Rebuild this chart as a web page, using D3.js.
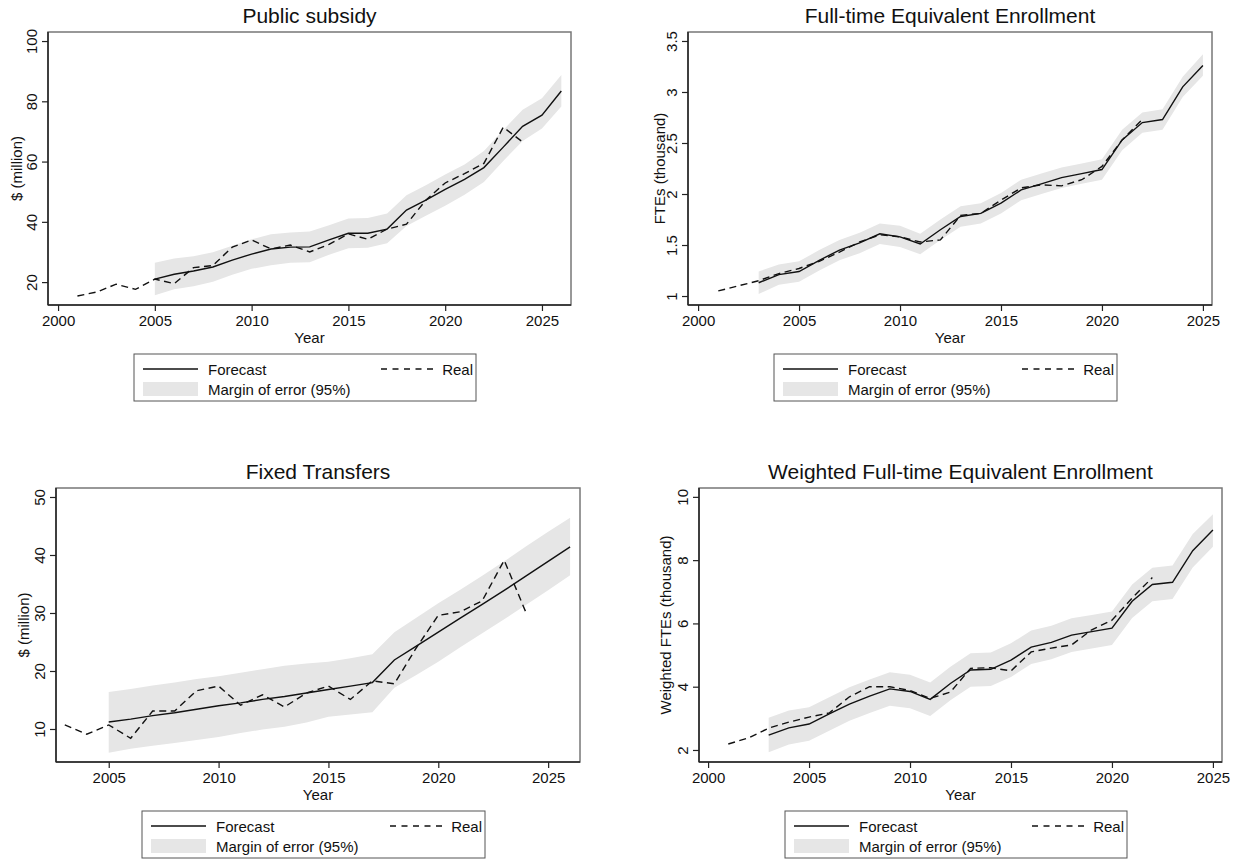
<!DOCTYPE html>
<html>
<head>
<meta charset="utf-8">
<script src="https://cdn.jsdelivr.net/npm/d3@7"></script>
<style>
  html, body { margin: 0; padding: 0; background: #fff; }
  svg { display: block; }
  text { font-family: "Liberation Sans", Arial, Helvetica, sans-serif; fill: #111; }
</style>
</head>
<body>
<svg id="chart" width="1234" height="861"></svg>
<script>
// ---------------- DATA ----------------
// Panel 1: Public subsidy ($ million)
const subsidyRealYears = [2001,2002,2003,2004,2005,2006,2007,2008,2009,2010,2011,2012,2013,2014,2015,2016,2017,2018,2019,2020,2021,2022,2023,2024];
const subsidyReal      = [15.4,16.7,19.3,17.6,21.0,19.5,24.8,25.5,31.6,34.0,31.0,32.3,30.0,32.5,36.0,34.2,37.6,39.2,47.2,52.9,56.0,59.4,71.4,66.5];
const subsidyFcYears   = [2005,2006,2007,2008,2009,2010,2011,2012,2013,2014,2015,2016,2017,2018,2019,2020,2021,2022,2023,2024,2025,2026];
const subsidyFc        = [21.0,22.6,23.7,25.0,27.3,29.3,31.0,31.6,31.7,34.0,36.2,36.2,37.6,43.9,47.2,50.8,54.1,58.0,64.8,71.7,75.4,83.4];
const subsidyHi        = [26.4,27.8,28.6,29.9,32.1,34.2,35.9,36.5,36.8,38.9,41.1,41.3,42.8,48.8,52.1,55.7,59.0,63.5,70.5,77.2,81.0,88.7];
const subsidyLo        = [15.6,17.6,18.6,20.1,22.4,24.4,25.6,26.4,26.6,29.1,31.2,31.4,32.9,38.6,42.0,45.3,49.0,53.2,60.2,66.8,71.0,78.3];

// Panel 2: Full-time Equivalent Enrollment (thousand)
const fteRealYears = [2001,2002,2003,2004,2005,2006,2007,2008,2009,2010,2011,2012,2013,2014,2015,2016,2017,2018,2019,2020,2021,2022];
const fteReal      = [1.05,1.10,1.15,1.22,1.27,1.34,1.43,1.53,1.60,1.58,1.53,1.55,1.79,1.81,1.94,2.06,2.09,2.08,2.14,2.27,2.53,2.73];
const fteFcYears   = [2003,2004,2005,2006,2007,2008,2009,2010,2011,2012,2013,2014,2015,2016,2017,2018,2019,2020,2021,2022,2023,2024,2025];
const fteFc        = [1.13,1.21,1.24,1.35,1.45,1.52,1.61,1.58,1.51,1.65,1.78,1.81,1.91,2.04,2.10,2.16,2.20,2.24,2.53,2.70,2.73,3.05,3.26];
const fteHi        = [1.24,1.31,1.34,1.45,1.55,1.62,1.71,1.69,1.61,1.75,1.88,1.91,2.01,2.14,2.20,2.26,2.30,2.34,2.63,2.80,2.83,3.15,3.37];
const fteLo        = [1.02,1.11,1.14,1.25,1.35,1.42,1.51,1.48,1.41,1.55,1.68,1.71,1.81,1.94,2.00,2.06,2.10,2.14,2.43,2.60,2.63,2.95,3.16];

// Panel 3: Fixed Transfers ($ million)
const fixedRealYears = [2003,2004,2005,2006,2007,2008,2009,2010,2011,2012,2013,2014,2015,2016,2017,2018,2019,2020,2021,2022,2023,2024];
const fixedReal      = [10.7,9.1,10.7,8.4,13.1,13.1,16.6,17.4,14.1,15.9,13.8,16.2,17.4,15.1,18.3,17.8,24.0,29.6,30.2,32.1,39.1,30.0];
const fixedFcYears   = [2005,2006,2007,2008,2009,2010,2011,2012,2013,2014,2015,2016,2017,2018,2019,2020,2021,2022,2023,2024,2025,2026];
const fixedFc        = [11.2,11.7,12.3,12.8,13.4,14.0,14.5,15.1,15.6,16.2,16.8,17.4,18.0,21.9,24.3,26.7,29.1,31.5,33.9,36.4,38.9,41.4];
const fixedHi        = [16.4,16.9,17.5,18.0,18.6,19.1,19.7,20.3,20.9,21.3,21.6,22.2,22.9,26.7,29.2,31.7,34.0,36.4,38.9,41.5,44.0,46.4];
const fixedLo        = [5.9,6.6,7.1,7.6,8.1,8.6,9.3,9.9,10.4,11.1,12.1,12.5,12.9,17.1,19.3,21.6,24.1,26.5,28.9,31.4,33.9,36.5];

// Panel 4: Weighted Full-time Equivalent Enrollment (thousand)
const wfteRealYears = [2001,2002,2003,2004,2005,2006,2007,2008,2009,2010,2011,2012,2013,2014,2015,2016,2017,2018,2019,2020,2021,2022];
const wfteReal      = [2.19,2.38,2.69,2.88,3.04,3.17,3.68,4.00,4.00,3.88,3.63,3.83,4.58,4.60,4.50,5.10,5.22,5.32,5.80,6.10,6.80,7.45];
const wfteFcYears   = [2003,2004,2005,2006,2007,2008,2009,2010,2011,2012,2013,2014,2015,2016,2017,2018,2019,2020,2021,2022,2023,2024,2025];
const wfteFc        = [2.47,2.70,2.82,3.14,3.45,3.70,3.93,3.85,3.60,4.10,4.53,4.55,4.84,5.25,5.40,5.63,5.74,5.85,6.70,7.23,7.30,8.30,8.95];
const wfteHi        = [3.02,3.25,3.35,3.67,3.98,4.23,4.46,4.38,4.13,4.63,5.06,5.08,5.37,5.78,5.93,6.16,6.27,6.38,7.23,7.76,7.83,8.83,9.45];
const wfteLo        = [1.93,2.17,2.29,2.61,2.92,3.17,3.40,3.32,3.07,3.57,4.00,4.02,4.31,4.72,4.87,5.10,5.21,5.32,6.17,6.70,6.77,7.77,8.42];

// Tick values
const xTicksA = [2000,2005,2010,2015,2020,2025];
const xTicksB = [2005,2010,2015,2020,2025];
const yTicks1 = [20,40,60,80,100];
const yTicks2 = [1,1.5,2,2.5,3,3.5];
const yTicks3 = [10,20,30,40,50];
const yTicks4 = [2,4,6,8,10];

// Texts
const titles  = ["Public subsidy","Full-time Equivalent Enrollment","Fixed Transfers","Weighted Full-time Equivalent Enrollment"];
const yLabels = ["$ (million)","FTEs (thousand)","$ (million)","Weighted FTEs (thousand)"];
const xLabel  = "Year";
const legendLabels = ["Forecast","Real","Margin of error (95%)"];

// ---------------- LAYOUT ----------------
const panels = [
  { box:[48,32,571,305],  xd:[1999.48,2026.5],  yd:[12.4,103],   xt:xTicksA, yt:yTicks1, yLabOff:32,
    rY:subsidyRealYears, r:subsidyReal, fY:subsidyFcYears, f:subsidyFc, hi:subsidyHi, lo:subsidyLo },
  { box:[688,32,1212,305], xd:[1999.5,2025.45], yd:[0.912,3.588], xt:xTicksA, yt:yTicks2, yLabOff:29,
    rY:fteRealYears, r:fteReal, fY:fteFcYears, f:fteFc, hi:fteHi, lo:fteLo },
  { box:[56,488,580,762],  xd:[2002.6,2026.45], yd:[4.31,51.55], xt:xTicksB, yt:yTicks3, yLabOff:33,
    rY:fixedRealYears, r:fixedReal, fY:fixedFcYears, f:fixedFc, hi:fixedHi, lo:fixedLo },
  { box:[699,488,1222,762], xd:[1999.55,2025.45], yd:[1.62,10.28], xt:xTicksA, yt:yTicks4, yLabOff:34,
    rY:wfteRealYears, r:wfteReal, fY:wfteFcYears, f:wfteFc, hi:wfteHi, lo:wfteLo }
];

const svg = d3.select("#chart");
const BAND = "#e6e6e6";
const FONT = '"Liberation Sans", Arial, Helvetica, sans-serif';

panels.forEach((p, i) => {
  const [x0, y0, x1, y1] = p.box;
  const x = d3.scaleLinear().domain(p.xd).range([x0, x1]);
  const y = d3.scaleLinear().domain(p.yd).range([y1, y0]);
  const g = svg.append("g");

  g.append("rect").attr("x", x0).attr("y", y0).attr("width", x1 - x0).attr("height", y1 - y0)
    .attr("fill", "#fff").attr("stroke", "#777").attr("stroke-width", 1.5);

  const clipId = "clip" + i;
  g.append("clipPath").attr("id", clipId).append("rect")
    .attr("x", x0).attr("y", y0).attr("width", x1 - x0).attr("height", y1 - y0);
  const plot = g.append("g").attr("clip-path", `url(#${clipId})`);

  const bandData = p.fY.map((yr, k) => ({ yr, lo: p.lo[k], hi: p.hi[k] }));
  plot.append("path").datum(bandData)
    .attr("d", d3.area().x(d => x(d.yr)).y0(d => y(d.lo)).y1(d => y(d.hi)))
    .attr("fill", BAND).attr("stroke", "none");

  const fcData = p.fY.map((yr, k) => ({ yr, v: p.f[k] }));
  plot.append("path").datum(fcData)
    .attr("d", d3.line().x(d => x(d.yr)).y(d => y(d.v)))
    .attr("fill", "none").attr("stroke", "#111").attr("stroke-width", 1.4);

  const rData = p.rY.map((yr, k) => ({ yr, v: p.r[k] }));
  plot.append("path").datum(rData)
    .attr("d", d3.line().x(d => x(d.yr)).y(d => y(d.v)))
    .attr("fill", "none").attr("stroke", "#111").attr("stroke-width", 1.4)
    .attr("stroke-dasharray", "7,4.5");

  const xa = g.append("g").attr("transform", `translate(0,${y1})`)
    .call(d3.axisBottom(x).tickValues(p.xt).tickFormat(d3.format("d")).tickSize(6).tickPadding(4));
  xa.select(".domain").attr("stroke", "#222").attr("stroke-width", 1.5)
    .attr("d", `M${x0},0H${x1}`);
  xa.selectAll(".tick line").attr("stroke", "#222").attr("stroke-width", 1.2);
  xa.selectAll(".tick text").attr("font-size", 15).attr("fill", "#111").attr("font-family", FONT);

  const ya = g.append("g").attr("transform", `translate(${x0},0)`)
    .call(d3.axisLeft(y).tickValues(p.yt).tickFormat(d => String(d)).tickSize(6).tickPadding(0));
  ya.select(".domain").attr("stroke", "#222").attr("stroke-width", 1.5)
    .attr("d", `M0,${y0}V${y1}`);
  ya.selectAll(".tick line").attr("stroke", "#222").attr("stroke-width", 1.2);
  ya.selectAll(".tick text").attr("font-size", 15).attr("fill", "#111").attr("font-family", FONT)
    .attr("x", null).attr("dy", null)
    .attr("text-anchor", "middle").attr("dominant-baseline", "central")
    .attr("transform", "translate(-17,0) rotate(-90)");

  g.append("text").attr("x", (x0 + x1) / 2).attr("y", y0 - 9)
    .attr("text-anchor", "middle").attr("font-size", 21).text(titles[i]);
  g.append("text").attr("x", (x0 + x1) / 2).attr("y", y1 + 38)
    .attr("text-anchor", "middle").attr("font-size", 15).text(xLabel);
  g.append("text")
    .attr("transform", `translate(${x0 - p.yLabOff},${(y0 + y1) / 2}) rotate(-90)`)
    .attr("text-anchor", "middle").attr("dominant-baseline", "central")
    .attr("font-size", 15).text(yLabels[i]);

  const lx0 = x0 + 86, lx1 = x1 - 95, ly0 = y1 + 49, lh = 47;
  const lg = g.append("g");
  lg.append("rect").attr("x", lx0).attr("y", ly0).attr("width", lx1 - lx0).attr("height", lh)
    .attr("fill", "#fff").attr("stroke", "#555").attr("stroke-width", 1);
  lg.append("line").attr("x1", lx0 + 9).attr("x2", lx0 + 64).attr("y1", ly0 + 15).attr("y2", ly0 + 15)
    .attr("stroke", "#111").attr("stroke-width", 1.4);
  lg.append("text").attr("x", lx0 + 74).attr("y", ly0 + 15).attr("dominant-baseline", "central")
    .attr("font-size", 15).text(legendLabels[0]);
  lg.append("line").attr("x1", lx1 - 95).attr("x2", lx1 - 42).attr("y1", ly0 + 15).attr("y2", ly0 + 15)
    .attr("stroke", "#111").attr("stroke-width", 1.4).attr("stroke-dasharray", "6,5.5");
  lg.append("text").attr("x", lx1 - 3).attr("y", ly0 + 15).attr("dominant-baseline", "central")
    .attr("text-anchor", "end").attr("font-size", 15).text(legendLabels[1]);
  lg.append("rect").attr("x", lx0 + 9).attr("y", ly0 + 28).attr("width", 55).attr("height", 14)
    .attr("fill", BAND);
  lg.append("text").attr("x", lx0 + 74).attr("y", ly0 + 35).attr("dominant-baseline", "central")
    .attr("font-size", 15).text(legendLabels[2]);
});
</script>
</body>
</html>
